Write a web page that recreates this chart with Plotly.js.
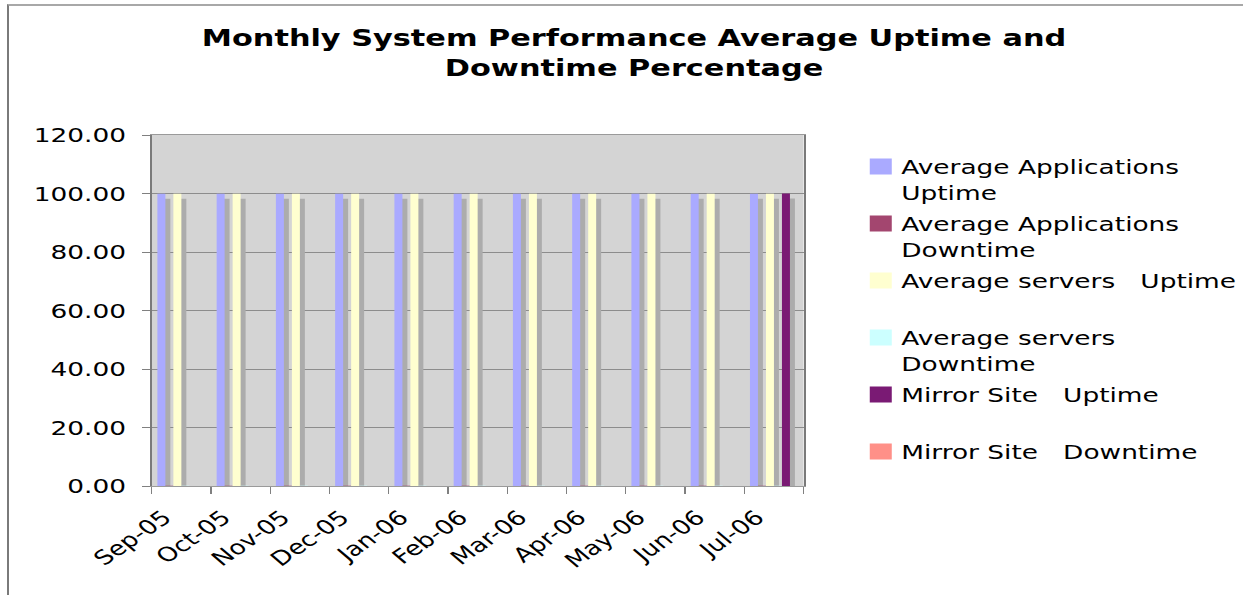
<!DOCTYPE html>
<html><head><meta charset="utf-8">
<script src="https://cdn.plot.ly/plotly-3.0.1.min.js"></script>
<style>
html,body{margin:0;padding:0;background:#fff;overflow:hidden;}
#chart{position:absolute;left:0;top:0;width:942px;height:595px;transform:scaleX(1.3195);transform-origin:0 0;}
#frame{position:absolute;left:7px;top:4px;width:1240px;height:600px;border-left:2px solid #7a7a7a;border-top:2px solid #a8a8a8;pointer-events:none;}
</style></head><body>
<div id="chart"></div><div id="frame"></div>
<script>
const months = ['Sep-05','Oct-05','Nov-05','Dec-05','Jan-06','Feb-06','Mar-06','Apr-06','May-06','Jun-06','Jul-06'];
const seriesNames = [
  'Average Applications<br>Uptime',
  'Average Applications<br>Downtime',
  'Average servers\u00A0\u00A0 Uptime<br>\u00A0',
  'Average servers<br>Downtime',
  'Mirror Site\u00A0\u00A0 Uptime<br>\u00A0',
  'Mirror Site\u00A0\u00A0 Downtime'
];
const seriesColors = ['#aaaaff','#a3466f','#ffffd0','#ccffff','#7a1a74','#ff9088'];
const appsUptime     = [99.9,99.9,99.9,99.9,99.9,99.9,99.9,99.9,99.9,99.9,99.9];
const appsDowntime   = [0.1,0.1,0.1,0.1,0.1,0.1,0.1,0.1,0.1,0.1,0.1];
const serversUptime  = [99.9,99.9,99.9,99.9,99.9,99.9,99.9,99.9,99.9,99.9,99.9];
const serversDowntime= [0.1,0.1,0.1,0.1,0.1,0.1,0.1,0.1,0.1,0.1,0.1];
const mirrorUptime   = [null,null,null,null,null,null,null,null,null,null,100];
const mirrorDowntime = [null,null,null,null,null,null,null,null,null,null,0];
const yTicks = [0,20,40,60,80,100,120];

const seriesValues = [appsUptime, appsDowntime, serversUptime, serversDowntime, mirrorUptime, mirrorDowntime];

const data = [];
// shadows (drawn underneath, on shifted hidden axes)
seriesValues.forEach((vals, i) => {
  data.push({type:'bar', x:months, y:vals, xaxis:'x', yaxis:'y',
    marker:{color:'#acacac', line:{width:0}}, showlegend:false, hoverinfo:'skip'});
});
// coloured series
seriesValues.forEach((vals, i) => {
  data.push({type:'bar', x:months, y:vals, xaxis:'x2', yaxis:'y2', name:seriesNames[i],
    legendgroup:'g'+i, marker:{color:seriesColors[i], line:{width:0}}});
});

const layout = {
  width:942, height:595,
  margin:{l:115.2, r:332.7, t:135, b:109},
  paper_bgcolor:'rgba(0,0,0,0)', plot_bgcolor:'#d4d4d4',
  barmode:'group', bargap:0.19, bargroupgap:0,
  hovermode:false,
  font:{family:'DejaVu Sans', size:20, color:'#000'},
  title:{text:'Monthly System Performance Average Uptime and<br>Downtime Percentage',
    font:{family:'DejaVu Sans', size:23, weight:'bold', color:'#000'},
    xref:'container', yref:'container', x:0.5101, xanchor:'center', y:1-46/595, yanchor:'middle'},
  xaxis:{type:'category', range:[-0.5-0.084, 10.5-0.084], visible:false, fixedrange:true},
  yaxis:{range:[1.71, 121.71], visible:false, fixedrange:true},
  xaxis2:{type:'category', overlaying:'x', side:'bottom', range:[-0.5,10.5], tickson:'boundaries',
    ticks:'outside', ticklen:7, tickcolor:'#808080', tickwidth:1, tickangle:-42,
    ticklabelstandoff:11, ticklabelshift:-13,
    showgrid:false, showline:true, linecolor:'#9a9a9a', linewidth:1, mirror:true, automargin:false,
    tickfont:{family:'DejaVu Sans', size:20, color:'#000'}, fixedrange:true},
  yaxis2:{overlaying:'y', side:'left', range:[0,120], tickvals:yTicks, tickformat:'.2f',
    ticks:'outside', ticklen:6, tickcolor:'#808080', showgrid:true, gridcolor:'#8c8c8c', gridwidth:1,
    showline:true, linecolor:'#7a7a7a', linewidth:1.5, mirror:true, zeroline:false,
    ticklabelstandoff:8, automargin:false, tickfont:{family:'DejaVu Sans', size:20, color:'#000'}, fixedrange:true},
  legend:{xref:'container', yref:'container', x:643/942, xanchor:'left', y:1-147/595, yanchor:'top',
    maxheight:500,
    font:{family:'DejaVu Sans', size:20, color:'#000'}, valign:'top', tracegroupgap:2,
    traceorder:'grouped', bgcolor:'rgba(0,0,0,0)', borderwidth:0}
};

Plotly.newPlot('chart', data, layout, {displayModeBar:false, staticPlot:true}).then(gd => {
  gd.querySelectorAll('.legend .legendpoints path').forEach(p => {
    const t = p.getAttribute('transform') || '';
    p.setAttribute('transform', t + ' translate(4.5,0) scale(1.39,1.33)');
  });
});
</script>
</body></html>
